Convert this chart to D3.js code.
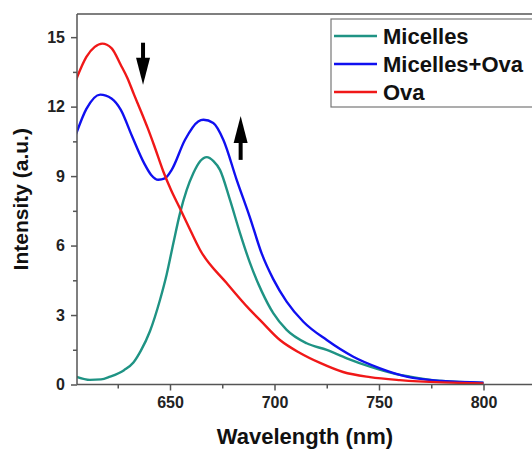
<!DOCTYPE html>
<html><head><meta charset="utf-8">
<script src="https://cdn.jsdelivr.net/npm/d3@7"></script>
<style>body{margin:0;background:#fff}svg{display:block}text{font-family:"Liberation Sans",Arial,sans-serif;font-weight:bold}</style>
</head><body>
<svg id="c" width="532" height="451"></svg>
<script>
const seriesNames = ["Micelles", "Micelles+Ova", "Ova"];
const seriesColors = ["#1f9384", "#1010f0", "#f01818"];

const micellesWl = [605, 611.7, 617, 621.3, 628, 632.5, 636, 640.4, 645.2, 648.4, 651.6, 654.8, 658, 661.2, 664.5, 667.6, 670.8, 673.9, 678.7, 683.5, 688.3, 694, 699.4, 705.8, 715.4, 725, 734.6, 745.7, 756.8, 764.8, 780, 800];
const micellesVal = [0.34, 0.2, 0.22, 0.34, 0.62, 0.95, 1.45, 2.3, 3.65, 4.75, 6.1, 7.4, 8.4, 9.13, 9.65, 9.82, 9.65, 9.27, 7.97, 6.54, 5.24, 4.0, 3.08, 2.36, 1.78, 1.49, 1.13, 0.77, 0.48, 0.34, 0.15, 0.07];

const mixWl = [605, 610, 616.6, 622, 626.4, 631.9, 637.6, 641, 644.4, 647.5, 650.8, 657.2, 663.5, 666, 670.7, 675.5, 681.9, 688.3, 693.9, 699.4, 705.8, 713.8, 725, 737.7, 750.5, 763.2, 780, 800];
const mixVal = [10.8, 11.9, 12.52, 12.35, 11.87, 10.71, 9.56, 9.05, 8.84, 8.9, 9.27, 10.57, 11.36, 11.43, 11.29, 10.57, 8.84, 7.2, 5.65, 4.55, 3.58, 2.71, 1.92, 1.2, 0.7, 0.34, 0.15, 0.08];

const ovaWl = [605, 610, 614, 617.6, 622, 626.4, 629.6, 632.8, 636.1, 639.3, 642.5, 646.8, 650.5, 654.8, 659, 664.4, 677.1, 688.3, 693, 702.6, 712.2, 721.8, 732.8, 745.7, 760, 780, 800];
const ovaVal = [13.15, 14.15, 14.58, 14.72, 14.53, 13.81, 13.24, 12.52, 11.8, 11.08, 10.3, 9.2, 8.4, 7.6, 6.8, 5.81, 4.38, 3.22, 2.79, 1.92, 1.36, 0.93, 0.54, 0.32, 0.19, 0.09, 0.05];

const xMajorTicks = [650, 700, 750, 800];
const xMinorTicks = [625, 675, 725, 775];
const yMajorTicks = [0, 3, 6, 9, 12, 15];
const yMinorTicks = [1.5, 4.5, 7.5, 10.5, 13.5];

const xTitle = "Wavelength (nm)";
const yTitle = "Intensity (a.u.)";

// annotation arrows in data units: [wavelength, fromValue, toValue]
const arrows = [[637.1, 14.76, 12.95], [683.8, 9.7, 11.6]];

const svg = d3.select("#c");
const pLeft = 77, pTop = 14, pBottom = 384.5, pRight = 560;
const x = d3.scaleLinear().domain([650, 800]).range([170, 483.5]);
const y = d3.scaleLinear().domain([0, 16]).range([pBottom, pTop]);

const series = [
  {name: seriesNames[0], color: seriesColors[0], wl: micellesWl, v: micellesVal},
  {name: seriesNames[1], color: seriesColors[1], wl: mixWl, v: mixVal},
  {name: seriesNames[2], color: seriesColors[2], wl: ovaWl, v: ovaVal}
];

const line = d3.line().x(d => x(d[0])).y(d => y(d[1])).curve(d3.curveMonotoneX);
svg.append("defs").append("clipPath").attr("id", "clip").append("rect")
  .attr("x", pLeft).attr("y", pTop).attr("width", pRight - pLeft).attr("height", pBottom - pTop);
const g = svg.append("g").attr("clip-path", "url(#clip)");
series.forEach(s => {
  g.append("path").datum(s.wl.map((w, i) => [w, s.v[i]]))
    .attr("d", line).attr("fill", "none").attr("stroke", s.color).attr("stroke-width", 2.4)
    .attr("stroke-linejoin", "round");
});

const axisColor = "#555";
svg.append("line").attr("x1", pLeft).attr("x2", 532).attr("y1", pTop).attr("y2", pTop).attr("stroke", axisColor).attr("stroke-width", 1.5);

const xAxis = d3.axisBottom(x).tickValues(xMajorTicks).tickSize(6).tickPadding(6).tickSizeOuter(0);
const xg = svg.append("g").attr("transform", `translate(0,${pBottom})`).call(xAxis);
xg.select(".domain").remove();
svg.append("line").attr("x1", pLeft).attr("x2", 532).attr("y1", pBottom).attr("y2", pBottom).attr("stroke", axisColor).attr("stroke-width", 1.5);
const xm = svg.append("g").attr("transform", `translate(0,${pBottom})`).call(d3.axisBottom(x).tickValues(xMinorTicks).tickSize(4).tickFormat(""));
xm.select(".domain").remove();

const yAxis = d3.axisLeft(y).tickValues(yMajorTicks).tickSize(6).tickPadding(6).tickSizeOuter(0);
const yg = svg.append("g").attr("transform", `translate(${pLeft},0)`).call(yAxis);
yg.select(".domain").remove();
svg.append("line").attr("x1", pLeft).attr("x2", pLeft).attr("y1", pTop).attr("y2", pBottom).attr("stroke", axisColor).attr("stroke-width", 1.5);
const ym = svg.append("g").attr("transform", `translate(${pLeft},0)`).call(d3.axisLeft(y).tickValues(yMinorTicks).tickSize(4).tickFormat(""));
ym.select(".domain").remove();

svg.selectAll(".tick line").attr("stroke", axisColor).attr("stroke-width", 1.5);
svg.selectAll(".tick text").attr("fill", "#222").style("font-size", "16px").style("font-family", "Liberation Sans, Arial, sans-serif").style("font-weight", "bold");

svg.append("text").attr("x", 305).attr("y", 444).attr("text-anchor", "middle").style("font-size", "22px").attr("fill", "#111").text(xTitle);
svg.append("text").attr("transform", `translate(28,${(pTop + pBottom) / 2}) rotate(-90)`).attr("text-anchor", "middle").style("font-size", "21px").attr("fill", "#111").text(yTitle);

arrows.forEach(a => {
  const ax = x(a[0]), y1 = y(a[1]), y2 = y(a[2]);
  const dir = Math.sign(y2 - y1);
  const headLen = 27, headHalf = 7;
  svg.append("line").attr("x1", ax).attr("x2", ax).attr("y1", y1).attr("y2", y2 - dir * headLen + dir * 2)
    .attr("stroke", "#000").attr("stroke-width", 4);
  svg.append("path").attr("d", `M${ax - headHalf},${y2 - dir * headLen}L${ax + headHalf},${y2 - dir * headLen}L${ax},${y2}Z`).attr("fill", "#000");
});

const lg = svg.append("g");
lg.append("rect").attr("x", 331).attr("y", 19).attr("width", 230).attr("height", 88).attr("fill", "#fff").attr("stroke", "#777").attr("stroke-width", 1.2);
const rowY = [36, 64, 92];
series.forEach((s, i) => {
  lg.append("line").attr("x1", 334).attr("x2", 377).attr("y1", rowY[i]).attr("y2", rowY[i]).attr("stroke", s.color).attr("stroke-width", 2.4);
  lg.append("text").attr("x", 383).attr("y", rowY[i] + 7.5).style("font-size", "22px").attr("fill", "#111").text(s.name);
});
</script>
</body></html>
